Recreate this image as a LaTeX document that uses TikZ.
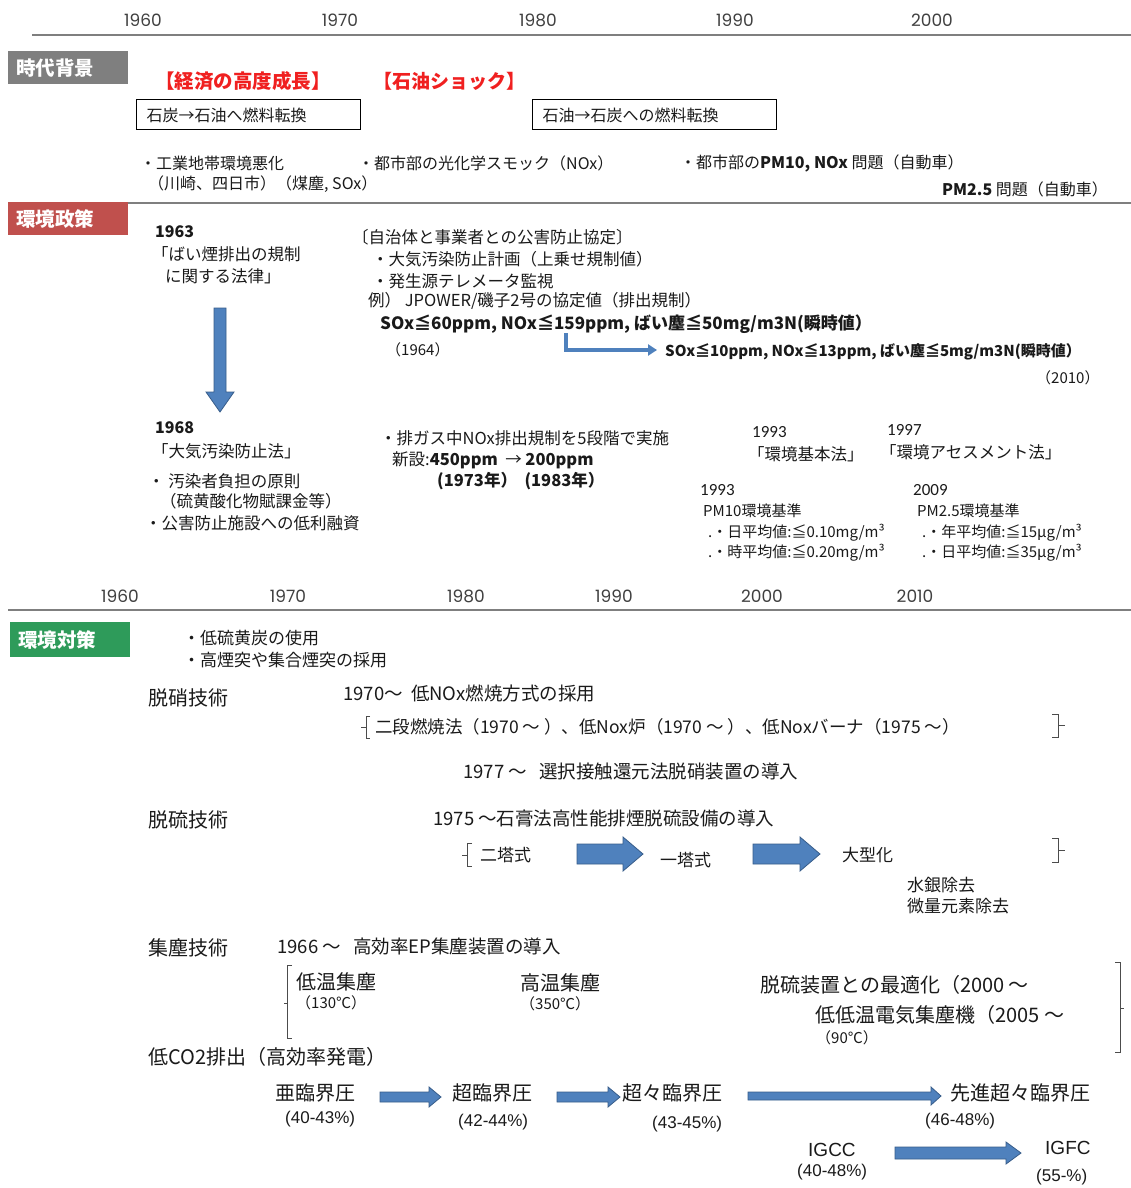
\documentclass[tikz,border=0pt]{standalone}
\usepackage{fontspec}
\setmainfont{Noto Sans CJK JP}
\newfontfamily\yrfont{Poppins}
\newfontfamily\calfont{Carlito}
\newfontfamily\arfont{Liberation Sans}
\usetikzlibrary{calc,arrows.meta}
\newcommand\fsz[1]{\fontsize{#1}{#1}\selectfont}
\definecolor{arrblue}{HTML}{4F81BD}
\definecolor{arrdark}{HTML}{385D8A}
\definecolor{labgray}{HTML}{7F7F7F}
\definecolor{labred}{HTML}{C0504D}
\definecolor{labgreen}{HTML}{2E9B5A}
\definecolor{txtred}{HTML}{F02020}
\definecolor{txt}{HTML}{1A1A1A}
\definecolor{yrgray}{HTML}{404040}
\definecolor{linegray}{HTML}{7F7F7F}
\newcommand\harrow[5]{\path[blk] let \p1=(#1), \p2=(#2) in (\x1,\y1+#3) -- (\x2-#5,\y1+#3) -- (\x2-#5,\y1+#4) -- (\x2,\y1) -- (\x2-#5,\y1-#4) -- (\x2-#5,\y1-#3) -- (\x1,\y1-#3) -- cycle;}
\newcommand\varrow[5]{\path[blk] let \p1=(#1), \p2=(#2) in (\x1-#3,\y1) -- (\x1-#3,\y2+#5) -- (\x1-#4,\y2+#5) -- (\x1,\y2) -- (\x1+#4,\y2+#5) -- (\x1+#3,\y2+#5) -- (\x1+#3,\y1) -- cycle;}
\begin{document}
\begin{tikzpicture}[x=1pt,y=-1pt,
 t/.style={anchor=west,inner sep=0pt,text=txt,font=\fsz{16}},
 tp/.style={anchor=west,inner sep=0pt,text=txt,font=\fsz{16.5}},
 tm/.style={anchor=west,inner sep=0pt,text=txt,font=\fsz{18.5}},
 b/.style={anchor=west,inner sep=0pt,text=txt,font=\fsz{16}\bfseries},
 yrs/.style={anchor=center,inner sep=0pt,text=yrgray,font=\yrfont\fsz{17}},
 yr2/.style={anchor=west,inner sep=0pt,text=txt,font=\calfont\fsz{17}},
 lab/.style={anchor=north west,inner xsep=8pt,inner ysep=0pt,minimum height=33pt,text width=104pt,align=left,text=white,font=\fsz{19.5}\bfseries},
 tline/.style={draw=linegray,line width=2.5pt},
 blk/.style={fill=arrblue,draw=arrdark,line width=0.8pt},
 brk/.style={draw=black!70,line width=0.8pt},
 elb/.style={draw=arrblue,line width=3.5pt,-{Triangle[length=9pt,width=11pt]}},
 fbox/.style={draw=black,line width=1pt,anchor=west,inner xsep=10pt,inner ysep=0pt,minimum height=30pt,align=left,text=txt,font=\fsz{16}}
]
\fill[white] (0,0) rectangle (1131,1188);
\useasboundingbox (0,0) rectangle (1131,1188);

% ---- timeline 1
\foreach \x/\y in {143/1960,340/1970,538/1980,735/1990,932/2000}
  \node[yrs] (ta\y) at (\x,20) {\y};
\draw[tline] (32,35) -- (1131,35);

% ---- 時代背景
\node[lab,fill=labgray] (bg) at (8,51) {時代背景};
\node[b,text=txtred,font=\fsz{19.5}\bfseries] (econ) at (155,81) {【経済の高度成長】};
\node[b,text=txtred,font=\fsz{19}\bfseries] (oil) at (373,81) {【石油ショック】};
\node[fbox,text width=204pt] (fc1) at (136,115) {石炭→石油へ燃料転換};
\node[fbox,text width=224pt] (fc2) at (532,115) {石油→石炭への燃料転換};
\node[t] (ind) at (140,163) {・工業地帯環境悪化};
\node[t] (ind2) at (148,184) {（川崎、四日市）（煤塵, SOx）};
\node[t] (smog) at (358,163) {・都市部の光化学スモック（NOx）};
\node[t] (pm10) at (680,163) {・都市部の\textbf{PM10, NOx} 問題（自動車）};
\node[t] (pm25) at (942,189) {\textbf{PM2.5} 問題（自動車）};
\draw[tline] (8,203) -- (1131,203);

% ---- 環境政策
\node[lab,fill=labred] (pol) at (8,202) {環境政策};
\node[b] (y63) at (155,232) {1963};
\node[tp] (law63a) at (152,254) {「ばい煙排出の規制};
\node[tp] (law63b) at (165,276) {に関する法律」};
\coordinate (va0) at (220,308);
\coordinate (va1) at (220,412);
\varrow{va0}{va1}{6pt}{14pt}{20pt}
\node[b] (y68) at (155,428) {1968};
\node[tp] (law68) at (152,451) {「大気汚染防止法」};
\node[tp] (pp1) at (148,481) {・ 汚染者負担の原則};
\node[tp] (pp2) at (160,501) {（硫黄酸化物賦課金等）};
\node[tp] (pp3) at (145,523) {・公害防止施設への低利融資};

\node[tp] (agr) at (352,237) {〔自治体と事業者との公害防止協定〕};
\node[tp] (agr1) at (372,259) {・大気汚染防止計画（上乗せ規制値）};
\node[tp] (agr2) at (372,281) {・発生源テレメータ監視};
\node[tp] (agr3) at (368,301) {例） JPOWER/磯子2号の協定値（排出規制）};
\node[b,font=\fsz{17}\bfseries] (v64) at (380,324) {SOx≦60ppm, NOx≦159ppm, ばい塵≦50mg/m3N(瞬時値）};
\node[t,font=\fsz{15}] (y64) at (386,350) {（1964）};
\node[b,font=\fsz{15}\bfseries] (v10) at (665,352) {SOx≦10ppm, NOx≦13ppm, ばい塵≦5mg/m3N(瞬時値）};
\node[t,font=\fsz{15}] (y10) at (1036,378) {（2010）};
\coordinate (e0) at (566,333);
\coordinate (e1) at (657,350);
\draw[elb] (e0) |- (e1);

\node[tp] (nox1) at (380,438) {・排ガス中NOx排出規制を5段階で実施};
\node[tp] (nox2) at (392,460) {新設:\textbf{450ppm}\ \ → \textbf{200ppm}};
\node[b,font=\fsz{16.5}\bfseries] (nox3) at (437,481) {(1973年）\ \ (1983年）};

\node[yr2] (y93a) at (752,432) {1993};
\node[tp] (law93) at (748,454) {「環境基本法」};
\node[yr2] (y97) at (887,430) {1997};
\node[tp] (law97) at (880,452) {「環境アセスメント法」};
\node[yr2] (y93b) at (700,490) {1993};
\node[t,font=\fsz{15}] (pm10s) at (703,511) {PM10環境基準};
\node[t,font=\fsz{15}] (pm10a) at (708,533) {.・日平均値:≦0.10mg/m³};
\node[t,font=\fsz{15}] (pm10b) at (708,553) {.・時平均値:≦0.20mg/m³};
\node[yr2] (y09) at (913,490) {2009};
\node[t,font=\fsz{15}] (pm25s) at (917,511) {PM2.5環境基準};
\node[t,font=\fsz{15}] (pm25a) at (922,533) {.・年平均値:≦15μg/m³};
\node[t,font=\fsz{15}] (pm25b) at (922,553) {.・日平均値:≦35μg/m³};

% ---- timeline 2
\foreach \x/\y in {120/1960,288/1970,466/1980,614/1990,762/2000,915/2010}
  \node[yrs] (tb\y) at (\x,596) {\y};
\draw[tline] (8,610) -- (1131,610);

% ---- 環境対策
\node[lab,fill=labgreen,minimum height=35pt] (ms) at (10,622) {環境対策};
\node[t,font=\fsz{17}] (c1) at (183,638) {・低硫黄炭の使用};
\node[t,font=\fsz{17}] (c2) at (183,660) {・高煙突や集合煙突の採用};

\node[t,font=\fsz{20}] (dn) at (148,698) {脱硝技術};
\node[tm] (dn1) at (343,693) {1970〜\ \ 低NOx燃焼方式の採用};
\node[t,font=\fsz{17.5}] (dn2) at (375,727) {二段燃焼法（1970 〜 ）、低Nox炉（1970 〜 ）、低Noxバーナ（1975 〜）};
\draw[brk] (370,716) -- (366,716) -- (366,738) -- (370,738);
\draw[brk] (366,727) -- (361,727);
\draw[brk] (1052,714) -- (1058,714) -- (1058,737) -- (1052,737);
\draw[brk] (1058,725) -- (1065,725);
\node[tm] (dn3) at (463,771) {1977 〜\ \ \ 選択接触還元法脱硝装置の導入};

\node[t,font=\fsz{20}] (ds) at (148,820) {脱硫技術};
\node[tm] (ds1) at (433,818) {1975 〜石膏法高性能排煙脱硫設備の導入};
\node[t,font=\fsz{17}] (ds2) at (480,855) {二塔式};
\draw[brk] (472,843) -- (467,843) -- (467,866) -- (472,866);
\draw[brk] (467,855) -- (462,855);
\coordinate (da0) at (577,854);
\coordinate (da1) at (643,854);
\harrow{da0}{da1}{10pt}{17pt}{20pt}
\node[t,font=\fsz{17}] (ds3) at (660,860) {一塔式};
\coordinate (db0) at (753,854);
\coordinate (db1) at (820,854);
\harrow{db0}{db1}{10pt}{17pt}{20pt}
\node[t,font=\fsz{17}] (ds4) at (842,855) {大型化};
\draw[brk] (1052,838) -- (1058,838) -- (1058,862) -- (1052,862);
\draw[brk] (1058,850) -- (1065,850);
\node[t,font=\fsz{17}] (ds5) at (907,885) {水銀除去};
\node[t,font=\fsz{17}] (ds6) at (907,906) {微量元素除去};

\node[t,font=\fsz{20}] (dc) at (148,948) {集塵技術};
\node[tm] (dc1) at (277,946) {1966 〜\ \ \ 高効率EP集塵装置の導入};
\draw[brk] (292,965) -- (287,965) -- (287,1038) -- (292,1038);
\draw[brk] (287,1003) -- (284,1003);
\node[t,font=\fsz{20}] (lt) at (296,982) {低温集塵};
\node[t,font=\fsz{15}] (lt1) at (296,1003) {（130℃）};
\node[t,font=\fsz{20}] (ht) at (520,983) {高温集塵};
\node[t,font=\fsz{15}] (ht1) at (520,1004) {（350℃）};
\node[t,font=\fsz{20}] (opt) at (760,985) {脱硫装置との最適化（2000 〜};
\node[t,font=\fsz{20}] (llt) at (815,1015) {低低温電気集塵機（2005 〜};
\node[t,font=\fsz{15}] (llt1) at (816,1038) {（90℃）};
\draw[brk] (1115,962) -- (1120,962) -- (1120,1052) -- (1115,1052);
\draw[brk] (1120,1008) -- (1124,1008);

\node[t,font=\fsz{20}] (co2) at (148,1057) {低CO2排出（高効率発電）};
\node[t,font=\fsz{20}] (sub) at (275,1093) {亜臨界圧};
\node[t,font=\arfont\fsz{17}] (sub1) at (285,1119) {(40-43\%)};
\node[t,font=\fsz{20}] (sc) at (452,1093) {超臨界圧};
\node[t,font=\arfont\fsz{17}] (sc1) at (458,1122) {(42-44\%)};
\node[t,font=\fsz{20}] (usc) at (622,1093) {超々臨界圧};
\node[t,font=\arfont\fsz{17}] (usc1) at (652,1124) {(43-45\%)};
\node[t,font=\fsz{20}] (ausc) at (950,1093) {先進超々臨界圧};
\node[t,font=\arfont\fsz{17}] (ausc1) at (925,1121) {(46-48\%)};
\node[t,font=\arfont\fsz{19}] (igcc) at (808,1150) {IGCC};
\node[t,font=\arfont\fsz{17}] (igcc1) at (797,1172) {(40-48\%)};
\node[t,font=\arfont\fsz{19}] (igfc) at (1045,1148) {IGFC};
\node[t,font=\arfont\fsz{17}] (igfc1) at (1036,1177) {(55-\%)};

\coordinate (ea0) at (380,1097); \coordinate (ea1) at (441,1097);
\harrow{ea0}{ea1}{5pt}{10pt}{12pt}
\coordinate (eb0) at (557,1097); \coordinate (eb1) at (620,1097);
\harrow{eb0}{eb1}{5pt}{10pt}{12pt}
\coordinate (ec0) at (748,1096); \coordinate (ec1) at (941,1096);
\harrow{ec0}{ec1}{4pt}{9pt}{10pt}
\coordinate (ed0) at (895,1153); \coordinate (ed1) at (1021,1153);
\harrow{ed0}{ed1}{6pt}{11pt}{15pt}
\end{tikzpicture}
\end{document}
